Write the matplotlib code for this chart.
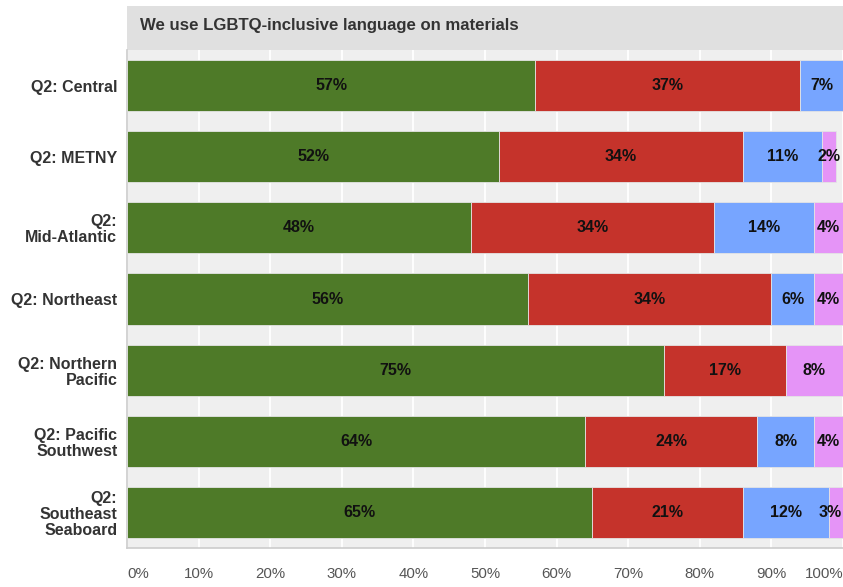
import matplotlib
matplotlib.use("Agg")
import matplotlib.pyplot as plt
import numpy as np

plt.rcParams['font.family'] = ['Liberation Sans', 'DejaVu Sans']

title = "We use LGBTQ-inclusive language on materials"
categories = ["Q2: Central", "Q2: METNY", "Q2:\nMid-Atlantic", "Q2: Northeast",
              "Q2: Northern\nPacific", "Q2: Pacific\nSouthwest", "Q2:\nSoutheast\nSeaboard"]
series_a = [57, 52, 48, 56, 75, 64, 65]   # green
series_b = [37, 34, 34, 34, 17, 24, 21]   # red
series_c = [7, 11, 14, 6, 0, 8, 12]       # blue
series_d = [0, 2, 4, 4, 8, 4, 3]          # pink
tick_values = [0, 10, 20, 30, 40, 50, 60, 70, 80, 90, 100]
tick_labels = [f"{v}%" for v in tick_values]

colors = ["#4e7a28", "#c5332b", "#77a5ff", "#e594f7"]

fig = plt.figure(figsize=(8.43, 5.87), dpi=100)
fig.patch.set_facecolor("white")

# title band above the plot area
tb = fig.add_axes([127/843, 1-50/587, 1-127/843, 44/587])
tb.set_facecolor("#e0e0e0")
tb.set_xticks([]); tb.set_yticks([])
for s in tb.spines.values():
    s.set_visible(False)
tb.text(13/716, 0.56, title, transform=tb.transAxes, ha="left", va="center",
        fontsize=12.1, fontweight="bold", color="#333333")

ax = fig.add_axes([127/843, 1-548/587, 1-127/843, 498/587])
ax.set_facecolor("#efefef")
y = np.arange(len(categories))
left = np.zeros(len(categories))
for vals, col in zip([series_a, series_b, series_c, series_d], colors):
    vals = np.array(vals, dtype=float)
    ax.barh(y, vals, left=left, height=0.72, color=col, edgecolor="#e4e4e4",
            linewidth=0.6, zorder=3)
    for yi, (l, v) in enumerate(zip(left, vals)):
        if v > 0:
            right = min(l + v, 100)
            cx = min((l + right) / 2, 98.2)
            ax.text(cx, yi, f"{int(v)}%", ha="center", va="center",
                    fontsize=11.5, fontweight="bold", color="#111111", zorder=4)
    left = left + vals

ax.set_xlim(0, 100)
ax.set_ylim(len(categories) - 0.5, -0.5)
ax.set_xticks(tick_values)
ax.set_xticklabels(tick_labels, fontsize=10.8, color="#555555")
ax.get_xticklabels()[0].set_horizontalalignment("left")
ax.get_xticklabels()[-1].set_horizontalalignment("right")
ax.set_yticks(y)
ax.set_yticklabels(categories, fontsize=11.5, fontweight="bold", color="#333333",
                   linespacing=1.08)
ax.tick_params(axis="both", length=0)
ax.tick_params(axis="y", pad=7)
ax.tick_params(axis="x", pad=14)
ax.grid(axis="x", color="white", linewidth=1.3, zorder=1)
ax.set_axisbelow(True)
for name, s in ax.spines.items():
    if name in ("left", "bottom"):
        s.set_color("#cccccc")
        s.set_linewidth(1.2)
    else:
        s.set_visible(False)

fig.savefig("out.png", dpi=100)
